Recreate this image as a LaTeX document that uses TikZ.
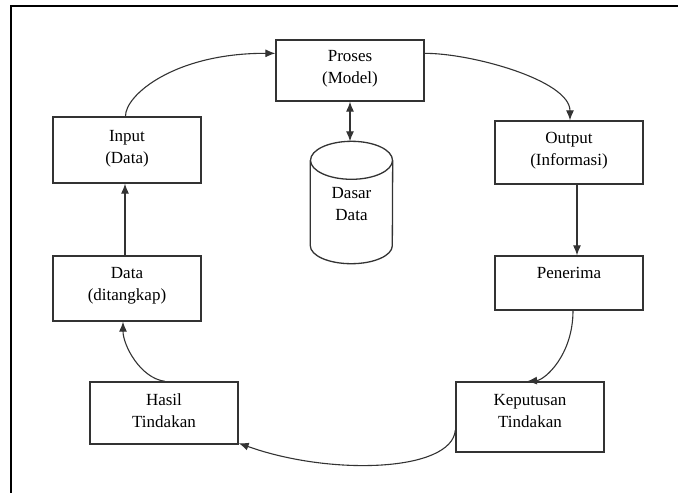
\documentclass[tikz,border=0pt]{standalone}
\usepackage{fontspec}
\setmainfont{Liberation Serif}
\newfontfamily\tnrfont{Liberation Serif}
\usetikzlibrary{arrows.meta,calc}
\begin{document}
\begin{tikzpicture}[x=1pt,y=-1pt,
  box/.style={draw=black!80, line width=1.3pt, minimum width=148pt, inner sep=0pt},
  txt/.style={align=center, inner sep=0pt, font=\tnrfont\fontsize{17}{22}\selectfont},
  conn/.style={draw=black!80, line width=1.1pt, -{Latex[length=10pt,width=8pt]}},
  frame/.style={line width=2pt, black}]
\useasboundingbox (0,0) rectangle (678,493);
\draw[frame] (11,493) -- (11,6) -- (678,6);
% boxes
\node[box, minimum height=61pt] (prs) at (350,70.5) {};
\node[box, minimum height=66pt] (inp) at (127,150) {};
\node[box, minimum height=63pt] (out) at (569,152.5) {};
\node[box, minimum height=65pt] (dat) at (127,288.5) {};
\node[box, minimum height=54pt] (pen) at (569,283) {};
\node[box, minimum height=62pt] (has) at (164,413) {};
\node[box, minimum height=70pt] (kep) at (530,417) {};
% texts
\node[txt] (prs-t) at (350,69) {Proses\\(Model)};
\node[txt] (inp-t) at (127,148.5) {Input\\(Data)};
\node[txt] (out-t) at (569,151) {Output\\(Informasi)};
\node[txt] (dat-t) at (127,286) {Data\\(ditangkap)};
\node[txt] (pen-t) at (569,273) {Penerima};
\node[txt] (has-t) at (164,411) {Hasil\\Tindakan};
\node[txt] (kep-t) at (530,411) {Keputusan\\Tindakan};
% database cylinder
\node[minimum width=82pt, minimum height=122pt, inner sep=0pt] (db) at (351.5,202.5) {};
\draw[draw=black!80, line width=1.3pt]
  ($(db.north)+(0,19)$) ellipse [x radius=41pt, y radius=19pt];
\draw[draw=black!80, line width=1.3pt]
  ($(db.north west)+(0,19)$) -- ($(db.south west)+(0,-18)$)
  arc[start angle=180, end angle=360, x radius=41pt, y radius=18pt]
  -- ($(db.north east)+(0,19)$);
\node[txt] (db-t) at (351.5,204) {Dasar\\Data};
% connectors
\draw[conn, {Latex[length=10pt,width=8pt]}-{Latex[length=10pt,width=8pt]}] (prs.south) -- (prs.south |- db.north);
\draw[conn] ($(inp.north)+(-1.5,0)$) .. controls (125,95) and (175,53) .. ($(prs.north west)+(0,14)$);
\draw[conn] ($(prs.north east)+(0,14)$) .. controls (470,53) and (570,80) .. ($(out.north)+(1,0)$);
\draw[conn] ($(out.south)+(8,0)$) -- ($(pen.north)+(8,0)$);
\draw[conn] ($(pen.south)+(4,0)$) .. controls (573,355) and (545,380) .. ($(kep.north)+(-3,0)$);
\draw[conn] ($(kep.west)+(0,13)$) .. controls (452,472) and (330,476) .. ($(has.south east)+(0,-1.5)$);
\draw[conn] ($(has.north)+(1,0)$) .. controls (140,378) and (123,345) .. ($(dat.south)+(-4,0)$);
\draw[conn] ($(dat.north)+(-2,0)$) -- ($(inp.south)+(-2,0)$);
\end{tikzpicture}
\end{document}
